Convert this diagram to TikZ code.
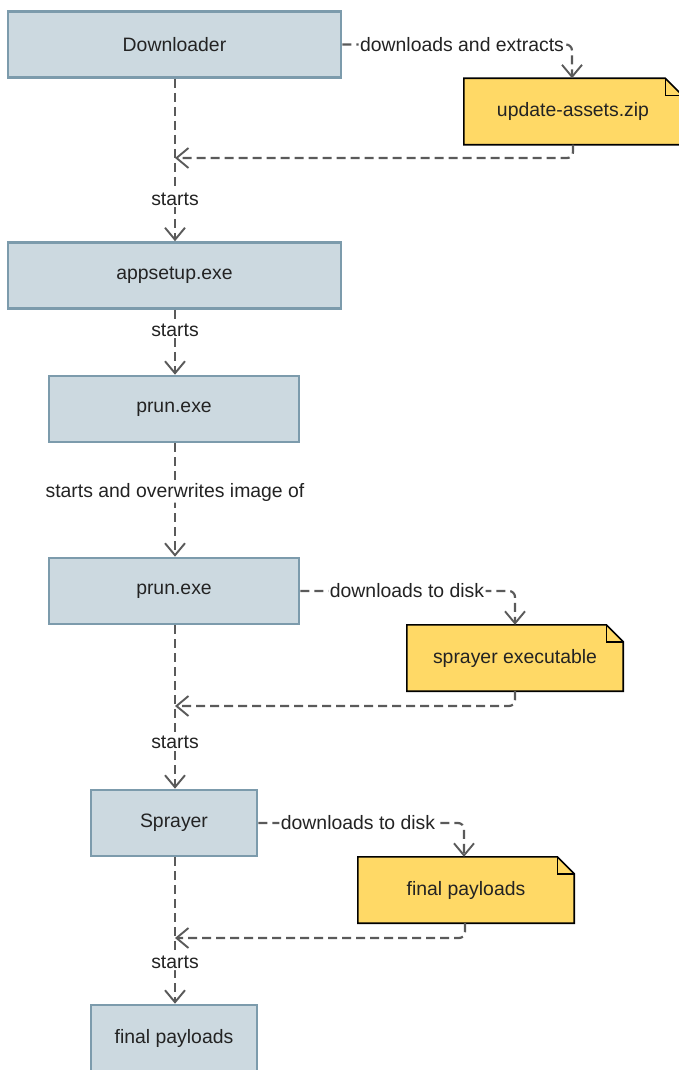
\documentclass[tikz,border=0pt]{standalone}
\usepackage{fontspec}
\setmainfont{Liberation Sans}
\usetikzlibrary{arrows.meta}
\definecolor{boxfill}{RGB}{204,217,224}
\definecolor{boxline}{RGB}{124,155,172}
\definecolor{notefill}{RGB}{255,217,102}
\definecolor{conn}{RGB}{90,90,90}
\definecolor{txt}{RGB}{35,35,35}
\newcommand{\notefold}[1]{%
  \filldraw[fill=notefill,draw=black,line width=1.6pt,line join=miter]
    (#1.south west) -- (#1.north west) -- ([xshift=-17pt]#1.north east)
    -- ([yshift=-17pt]#1.north east) -- (#1.south east) -- cycle;
  \draw[black,line width=1.4pt] ([xshift=-17pt]#1.north east) -- ([xshift=-17pt,yshift=-17pt]#1.north east) -- ([yshift=-17pt]#1.north east);}
\begin{document}
\begin{tikzpicture}[x=1pt,y=-1pt,
  font=\fontsize{19.4}{23}\selectfont, text=txt,
  procbox/.style={draw=boxline, fill=boxfill, line width=2.6pt, minimum height=66pt, inner sep=0pt},
  notebox/.style={minimum width=216pt, minimum height=66pt, inner sep=0pt},
  conn/.style={draw=conn, line width=2.2pt, dash pattern=on 9pt off 5pt, rounded corners=6pt,
    -{Straight Barb[length=12pt,width=20pt,line width=1.9pt]}},
  lbl/.style={fill=white, inner sep=1.5pt}]
\useasboundingbox (0,0) rectangle (678,1070);
% process boxes
\node[procbox, minimum width=333pt] (dl) at (174.5,44.5) {Downloader};
\node[procbox, minimum width=333pt] (app) at (174.5,275.5) {appsetup.exe};
\node[procbox, minimum width=250pt] (prun1) at (174,409) {prun.exe};
\node[procbox, minimum width=250pt] (prun2) at (174,591) {prun.exe};
\node[procbox, minimum width=166pt] (spr) at (174,823) {Sprayer};
\node[procbox, minimum width=166pt, minimum height=67pt] (fin) at (174,1038.5) {final payloads};
% notes
\node[notebox, minimum width=218pt] (zip) at (573,111.5) {};
\notefold{zip}
\node at (zip) {update-assets.zip};
\node[notebox] (sexe) at (515,658) {};
\notefold{sexe}
\node at (sexe) {sprayer executable};
\node[notebox] (fpn) at (466,890) {};
\notefold{fpn}
\node at (fpn) {final payloads};
% junctions
\coordinate (j1) at (175,158);
\coordinate (j2) at (175,706);
\coordinate (j3) at (175,938);
% connectors
\draw[conn] (dl.south -| j1) -- (app.north -| j1) node[lbl, pos=0.74] {starts};
\draw[conn] (dl.east) -- (572,44.5) -- (zip.north -| 572,0) node[lbl, pos=0, xshift=-110pt] {downloads and extracts};
\draw[conn] (zip.south -| 573,0) |- (j1);
\draw[conn] (app.south -| j1) -- (prun1.north -| j1) node[lbl, pos=0.31] {starts};
\draw[conn] (prun1.south -| j1) -- (prun2.north -| j1) node[lbl, pos=0.43] {starts and overwrites image of};
\draw[conn] (prun2.east) -- (515,591) -- (sexe.north) node[lbl, pos=0, xshift=-108pt] {downloads to disk};
\draw[conn] (sexe.south) |- (j2);
\draw[conn] (prun2.south -| j2) -- (spr.north -| j2) node[lbl, pos=0.715] {starts};
\draw[conn] (spr.east) -- (464,823) -- (fpn.north -| 464,0) node[lbl, pos=0, xshift=-106pt] {downloads to disk};
\draw[conn] (fpn.south -| 465,0) |- (j3);
\draw[conn] (spr.south -| j3) -- (fin.north -| j3) node[lbl, pos=0.716] {starts};
\end{tikzpicture}
\end{document}
